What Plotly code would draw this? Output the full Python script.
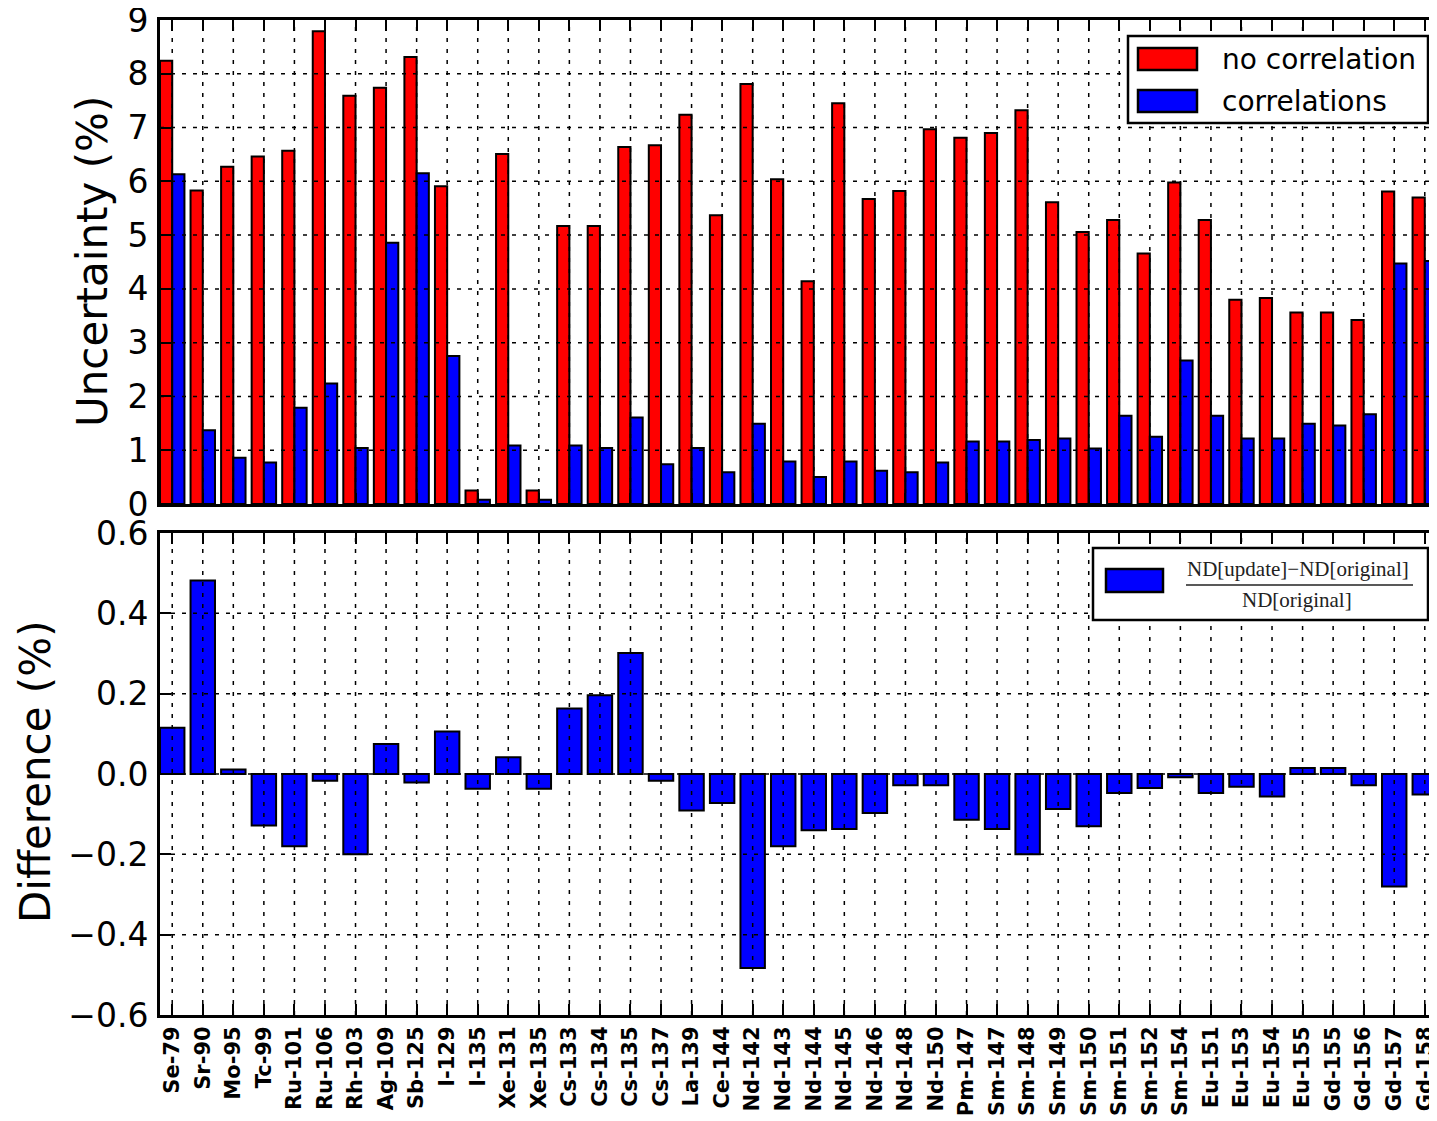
import plotly.graph_objects as go

# ---------------- data ----------------
isotopes = ["Se-79", "Sr-90", "Mo-95", "Tc-99", "Ru-101", "Ru-106", "Rh-103", "Ag-109",
            "Sb-125", "I-129", "I-135", "Xe-131", "Xe-135", "Cs-133", "Cs-134", "Cs-135",
            "Cs-137", "La-139", "Ce-144", "Nd-142", "Nd-143", "Nd-144", "Nd-145", "Nd-146",
            "Nd-148", "Nd-150", "Pm-147", "Sm-147", "Sm-148", "Sm-149", "Sm-150", "Sm-151",
            "Sm-152", "Sm-154", "Eu-151", "Eu-153", "Eu-154", "Eu-155", "Gd-155", "Gd-156",
            "Gd-157", "Gd-158"]

no_correlation = [8.24, 5.83, 6.27, 6.46, 6.57, 8.79, 7.59, 7.74, 8.31, 5.91,
                  0.25, 6.51, 0.25, 5.17, 5.17, 6.64, 6.67, 7.24, 5.37, 7.81,
                  6.04, 4.14, 7.45, 5.67, 5.82, 6.97, 6.81, 6.90, 7.32, 5.61,
                  5.06, 5.28, 4.66, 5.98, 5.28, 3.80, 3.83, 3.56, 3.56, 3.42,
                  5.81, 5.70]

correlations = [6.13, 1.37, 0.86, 0.77, 1.79, 2.24, 1.04, 4.86, 6.15, 2.75,
                0.08, 1.09, 0.08, 1.09, 1.04, 1.61, 0.74, 1.04, 0.59, 1.49,
                0.79, 0.50, 0.79, 0.62, 0.59, 0.77, 1.16, 1.16, 1.19, 1.22,
                1.03, 1.64, 1.25, 2.67, 1.64, 1.22, 1.22, 1.49, 1.46, 1.67,
                4.47, 4.52]

difference = [0.115, 0.482, 0.011, -0.128, -0.180, -0.017, -0.200, 0.075, -0.021, 0.106,
              -0.037, 0.042, -0.037, 0.163, 0.196, 0.301, -0.017, -0.091, -0.072, -0.483,
              -0.180, -0.140, -0.137, -0.097, -0.028, -0.028, -0.114, -0.137, -0.200, -0.087,
              -0.130, -0.047, -0.035, -0.008, -0.047, -0.032, -0.056, 0.015, 0.015, -0.028,
              -0.280, -0.051]

y1_ticks = [0, 1, 2, 3, 4, 5, 6, 7, 8, 9]
y2_ticks = [-0.6, -0.4, -0.2, 0.0, 0.2, 0.4, 0.6]
y2_ticktext = ["\u22120.6", "\u22120.4", "\u22120.2", "0.0", "0.2", "0.4", "0.6"]

# ---------------- layout helpers ----------------
# The page has an 8px body margin, so the figure is sized/offset to compensate.
OFF = 8
PAGE_W, PAGE_H = 1437, 1121
PLOT_L, PLOT_R, PLOT_T, PLOT_B = 160, 1437, 20, 1015   # plot area in page pixels
W, H = PAGE_W - OFF, PAGE_H - OFF
L, R, T, B = PLOT_L - OFF, PAGE_W - PLOT_R, PLOT_T - OFF, PAGE_H - PLOT_B


def px(x):
    return (x - PLOT_L) / (PLOT_R - PLOT_L)


def py(y):
    return (PLOT_B - y) / (PLOT_B - PLOT_T)


top_dom = [py(504), 1.0]
bot_dom = [0.0, py(533)]

xs = list(range(len(isotopes)))
xrange_ = [-0.4, len(isotopes) - 0.6]

fig = go.Figure()
fig.add_trace(go.Bar(x=xs, y=no_correlation, name="no correlation",
                     marker=dict(color="#ff0000", line=dict(color="black", width=2)),
                     xaxis="x", yaxis="y"))
fig.add_trace(go.Bar(x=xs, y=correlations, name="correlations",
                     marker=dict(color="#0000ff", line=dict(color="black", width=2)),
                     xaxis="x", yaxis="y"))
fig.add_trace(go.Bar(x=xs, y=difference, name="difference",
                     marker=dict(color="#0000ff", line=dict(color="black", width=2)),
                     xaxis="x2", yaxis="y2"))

tickfont_y = dict(family="DejaVu Sans", size=33, color="black")
common_x = dict(range=xrange_, tickvals=xs, ticks="inside", ticklen=11, tickwidth=1.5,
                tickcolor="black", showline=True, linecolor="black", linewidth=3,
                mirror="ticks", showgrid=False, zeroline=False, automargin=False,
                ticklabeloverflow="allow")
common_y = dict(ticks="inside", ticklen=11, tickwidth=1.5, tickcolor="black",
                showline=True, linecolor="black", linewidth=3, mirror=False,
                showgrid=False, zeroline=False, tickfont=tickfont_y, ticklabelstandoff=2,
                automargin=False, ticklabeloverflow="allow")

fig.update_layout(
    template="none",
    width=W, height=H,
    margin=dict(l=L, r=R, t=T, b=B, pad=0, autoexpand=False),
    paper_bgcolor="white", plot_bgcolor="white",
    barmode="group", bargap=0.2, bargroupgap=0.0,
    showlegend=False,
    xaxis=dict(domain=[0, 1], anchor="y", showticklabels=False, **common_x),
    xaxis2=dict(domain=[0, 1], anchor="y2", showticklabels=True, ticktext=isotopes,
                tickangle=-90, ticklabelstandoff=0,
                tickfont=dict(family="DejaVu Sans", size=21, color="black", weight="bold"),
                **common_x),
    yaxis=dict(domain=top_dom, anchor="x", range=[0, 9], tickvals=y1_ticks, **common_y),
    yaxis2=dict(domain=bot_dom, anchor="x2", range=[-0.6, 0.6], tickvals=y2_ticks,
                ticktext=y2_ticktext, **common_y),
)

# ---------------- grid (drawn above the bars, like the reference) ----------------
grid_line = dict(color="black", width=1.5, dash="4px,7px")
shapes = []
for xa, ya in (("x", "y"), ("x2", "y2")):
    for i in xs:
        shapes.append(dict(type="line", xref=xa, yref=ya + " domain", x0=i, x1=i, y0=0, y1=1,
                           line=grid_line, layer="above"))
for v in y1_ticks[1:-1]:
    shapes.append(dict(type="line", xref="x domain", yref="y", x0=0, x1=1, y0=v, y1=v,
                       line=grid_line, layer="above"))
for v in y2_ticks[1:-1]:
    shapes.append(dict(type="line", xref="x2 domain", yref="y2", x0=0, x1=1, y0=v, y1=v,
                       line=grid_line, layer="above"))

# ---------------- manual legends ----------------
def rect(x0, y0, x1, y1, fill, lw):
    return dict(type="rect", xref="paper", yref="paper", x0=px(x0), x1=px(x1),
                y0=py(y1), y1=py(y0), fillcolor=fill,
                line=dict(color="black", width=lw), layer="above")


shapes.append(rect(1128, 36, 1428, 123, "white", 2.5))
shapes.append(rect(1138, 48, 1197, 70, "#ff0000", 2.5))
shapes.append(rect(1138, 90, 1197, 112, "#0000ff", 2.5))

shapes.append(rect(1093, 548, 1428, 620, "white", 2.5))
shapes.append(rect(1106, 569, 1163, 592, "#0000ff", 2.5))
shapes.append(dict(type="line", xref="paper", yref="paper", x0=px(1186), x1=px(1413),
                   y0=py(585), y1=py(585), line=dict(color="#222222", width=1.5),
                   layer="above"))

annotations = [
    dict(text="no correlation", xref="paper", yref="paper", x=px(1220), y=py(59),
         xanchor="left", yanchor="middle", showarrow=False,
         font=dict(family="DejaVu Sans", size=28, color="black")),
    dict(text="correlations", xref="paper", yref="paper", x=px(1220), y=py(101),
         xanchor="left", yanchor="middle", showarrow=False,
         font=dict(family="DejaVu Sans", size=28, color="black")),
    dict(text="ND[update]\u2212ND[original]", xref="paper", yref="paper", x=px(1298),
         y=py(569), xanchor="center", yanchor="middle", showarrow=False,
         font=dict(family="Liberation Serif", size=21, color="#222222")),
    dict(text="ND[original]", xref="paper", yref="paper", x=px(1297), y=py(600),
         xanchor="center", yanchor="middle", showarrow=False,
         font=dict(family="Liberation Serif", size=21, color="#222222")),
    dict(text="Uncertainty (%)", xref="paper", yref="paper", x=px(92), y=py(262),
         xanchor="center", yanchor="middle", showarrow=False, textangle=-90,
         font=dict(family="DejaVu Sans", size=42, color="black")),
    dict(text="Difference (%)", xref="paper", yref="paper", x=px(35), y=py(772),
         xanchor="center", yanchor="middle", showarrow=False, textangle=-90,
         font=dict(family="DejaVu Sans", size=42, color="black")),
]

fig.update_layout(shapes=shapes, annotations=annotations)
fig.write_html("out.html")
